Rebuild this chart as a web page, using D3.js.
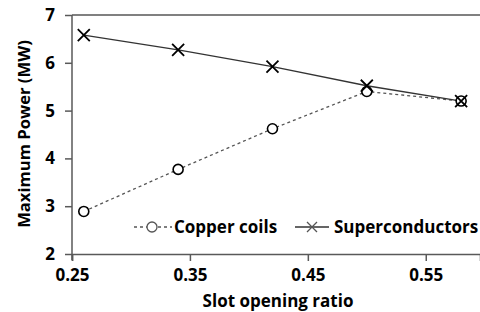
<!DOCTYPE html>
<html>
<head>
<meta charset="utf-8">
<script src="https://cdn.jsdelivr.net/npm/d3@7"></script>
<style>
  body { margin: 0; background: #fff; }
  text { font-family: "Open Sans", sans-serif; font-weight: bold; fill: #000; }
</style>
</head>
<body>
<svg id="chart" width="480" height="312"></svg>
<script>
// slot opening ratio
const ratios = [0.26, 0.34, 0.42, 0.50, 0.58];
const copper = [2.89, 3.77, 4.62, 5.40, 5.20];
const supercond = [6.58, 6.27, 5.92, 5.52, 5.20];
const xTicks = [0.25, 0.35, 0.45, 0.55];
const yTicks = [2, 3, 4, 5, 6, 7];

function draw_chart() {
    let svg = d3.select("#chart");

    let left = 72, right = 480, top = 15, bottom = 254;

    let x = d3.scaleLinear().domain([0.25, 0.596]).range([left, right]);
    let y = d3.scaleLinear().domain([2, 7]).range([bottom, top]);

    // top border
    svg.append("line")
        .attr("x1", left).attr("x2", right)
        .attr("y1", top).attr("y2", top)
        .attr("stroke", "#808080")
        .attr("stroke-width", 2);

    let xAxis = svg.append("g")
        .attr("transform", "translate(0," + bottom + ")")
        .call(d3.axisBottom(x).tickValues(xTicks).tickFormat(d3.format(".2f")).tickSizeOuter(0).tickSize(7).tickPadding(8));

    let yAxis = svg.append("g")
        .attr("transform", "translate(" + left + ",0)")
        .call(d3.axisLeft(y).tickValues(yTicks).tickFormat(d3.format("d")).tickSizeOuter(0).tickSize(7).tickPadding(10));

    [xAxis, yAxis].forEach(function (a) {
        a.select(".domain").attr("stroke", "#595959").attr("stroke-width", 1.5);
        a.selectAll(".tick line").attr("stroke", "#595959").attr("stroke-width", 1.5);
        a.selectAll(".tick text").style("font-size", "17px").style("font-family", "Open Sans").style("font-weight", "bold").attr("fill", "#000");
    });
    // y axis reaches below the x axis a little
    yAxis.select(".domain").attr("d", "M0," + top + "V" + (bottom + 6));

    let line = d3.line()
        .x(function (d) { return x(d[0]); })
        .y(function (d) { return y(d[1]); });

    let copperPts = ratios.map(function (r, i) { return [r, copper[i]]; });
    let superPts = ratios.map(function (r, i) { return [r, supercond[i]]; });

    svg.append("path")
        .datum(copperPts)
        .attr("d", line)
        .attr("fill", "none")
        .attr("stroke", "#555")
        .attr("stroke-width", 1.3)
        .attr("stroke-dasharray", "3,3");

    svg.append("path")
        .datum(superPts)
        .attr("d", line)
        .attr("fill", "none")
        .attr("stroke", "#333")
        .attr("stroke-width", 1.3);

    function cross(g, cx, cy, s, w, col) {
        g.append("path")
            .attr("d", "M" + (cx - s) + "," + (cy - s) + "L" + (cx + s) + "," + (cy + s) +
                "M" + (cx - s) + "," + (cy + s) + "L" + (cx + s) + "," + (cy - s))
            .attr("stroke", col)
            .attr("stroke-width", w)
            .attr("fill", "none");
    }

    svg.append("g").selectAll("circle")
        .data(copperPts)
        .enter().append("circle")
        .attr("cx", function (d) { return x(d[0]); })
        .attr("cy", function (d) { return y(d[1]); })
        .attr("r", 5)
        .attr("fill", "#fff")
        .attr("stroke", "#000")
        .attr("stroke-width", 1.6);

    let crosses = svg.append("g");
    superPts.forEach(function (d) {
        cross(crosses, x(d[0]), y(d[1]), 6, 1.8, "#000");
    });

    // legend
    let lg = svg.append("g").attr("transform", "translate(0,227)");
    lg.append("line").attr("x1", 134).attr("x2", 172).attr("y1", 0).attr("y2", 0)
        .attr("stroke", "#555").attr("stroke-width", 1.3).attr("stroke-dasharray", "3,3");
    lg.append("circle").attr("cx", 152).attr("cy", 0).attr("r", 5)
        .attr("fill", "#fff").attr("stroke", "#555").attr("stroke-width", 1.3);
    lg.append("text").attr("x", 174).attr("y", 6).style("font-size", "17px").text("Copper coils");

    lg.append("line").attr("x1", 295).attr("x2", 329).attr("y1", 0).attr("y2", 0)
        .attr("stroke", "#333").attr("stroke-width", 1.3);
    cross(lg, 312, 0, 5, 1.3, "#555");
    lg.append("text").attr("x", 334).attr("y", 6).style("font-size", "17px").text("Superconductors");

    // axis titles
    svg.append("text")
        .attr("x", 278).attr("y", 307)
        .attr("text-anchor", "middle")
        .style("font-size", "17px")
        .text("Slot opening ratio");

    svg.append("text")
        .attr("transform", "translate(30,134) rotate(-90)")
        .attr("text-anchor", "middle")
        .style("font-size", "16.6px")
        .text("Maximum Power (MW)");
}

draw_chart();
</script>
</body>
</html>
